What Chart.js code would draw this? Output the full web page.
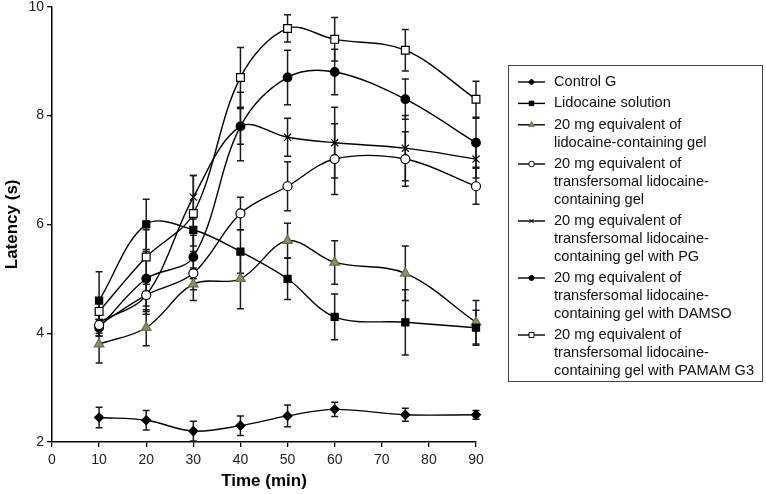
<!DOCTYPE html>
<html>
<head>
<meta charset="utf-8">
<script src="https://cdn.jsdelivr.net/npm/chart.js@4.4.0/dist/chart.umd.min.js"></script>
<style>
  html, body { margin: 0; padding: 0; background: #fff; }
</style>
</head>
<body>
<canvas id="latencyChart" width="766" height="494"></canvas>
<script>
// -------------------- Data --------------------
const times = [10, 20, 30, 40, 50, 60, 75, 90];
const yTicks = [2, 4, 6, 8, 10];

const controlG = [2.45, 2.4, 2.2, 2.3, 2.48, 2.6, 2.5, 2.5];
const controlGErr = [0.19, 0.18, 0.18, 0.18, 0.2, 0.13, 0.12, 0.08];

const lidoSolution = [4.6, 6.0, 5.9, 5.5, 5.0, 4.3, 4.2, 4.1];
const lidoSolutionErr = [0.53, 0.46, 0.3, 0.4, 0.38, 0.42, 0.6, 0.32];

const lidoGel = [3.8, 4.1, 4.9, 5.0, 5.7, 5.3, 5.1, 4.2];
const lidoGelErr = [0.35, 0.33, 0.3, 0.55, 0.32, 0.4, 0.5, 0.4];

const transGel = [4.15, 4.7, 5.1, 6.2, 6.7, 7.2, 7.2, 6.7];
const transGelErr = [0.2, 0.3, 0.3, 0.3, 0.45, 0.65, 0.5, 0.33];

const transGelPG = [4.2, 4.7, 6.5, 7.8, 7.6, 7.5, 7.4, 7.2];
const transGelPGErr = [0.2, 0.35, 0.4, 0.33, 0.35, 0.65, 0.6, 0.35];

const transGelDMSO = [4.1, 5.0, 5.4, 7.8, 8.7, 8.8, 8.3, 7.5];
const transGelDMSOErr = [0.15, 0.5, 0.4, 0.63, 0.5, 0.42, 0.37, 0.45];

const transGelPAMAM = [4.4, 5.4, 6.2, 8.7, 9.6, 9.4, 9.2, 8.3];
const transGelPAMAMErr = [0.2, 0.5, 0.7, 0.55, 0.25, 0.4, 0.38, 0.33];

const seriesLabels = [
  ["Control G"],
  ["Lidocaine solution"],
  ["20 mg equivalent of", "lidocaine-containing gel"],
  ["20 mg equivalent of", "transfersomal lidocaine-", "containing gel"],
  ["20 mg equivalent of", "transfersomal lidocaine-", "containing gel with PG"],
  ["20 mg equivalent of", "transfersomal lidocaine-", "containing gel with DAMSO"],
  ["20 mg equivalent of", "transfersomal lidocaine-", "containing gel with PAMAM G3"]
];

// -------------------- Styles --------------------
const FONT = "'Liberation Sans', Arial, sans-serif";
const markers = [
  { style: "rectRot", r: 4.5, fill: "#000", border: "#000", lr: 3 },
  { style: "rect", r: 5, fill: "#000", border: "#000", lr: 3.2 },
  { style: "triangle", r: 5.5, fill: "#8c8c72", border: "#6e6e45", lr: 3.2 },
  { style: "circle", r: 4.5, fill: "#fff", border: "#000", lr: 2.8 },
  { style: "crossRot", r: 5, fill: "#000", border: "#000", lr: 3 },
  { style: "circle", r: 4.3, fill: "#000", border: "#000", lr: 2.5 },
  { style: "rect", r: 5.5, fill: "#fff", border: "#000", lr: 3.5 }
];

const allValues = [controlG, lidoSolution, lidoGel, transGel, transGelPG, transGelDMSO, transGelPAMAM];
const allErrors = [controlGErr, lidoSolutionErr, lidoGelErr, transGelErr, transGelPGErr, transGelDMSOErr, transGelPAMAMErr];

const datasets = allValues.map((vals, k) => ({
  label: seriesLabels[k].join(" "),
  data: vals.map((v, i) => ({ x: times[i], y: v })),
  errors: allErrors[k],
  borderColor: "#000",
  borderWidth: 1.4,
  tension: 0.35,
  clip: false,
  pointStyle: markers[k].style,
  pointRadius: markers[k].r,
  pointBackgroundColor: markers[k].fill,
  pointBorderColor: markers[k].border,
  pointBorderWidth: 1.2
}));

// -------------------- Plugins --------------------
const errorBars = {
  id: "errorBars",
  beforeDatasetsDraw(chart) {
    const ctx = chart.ctx;
    const xs = chart.scales.x, ys = chart.scales.y;
    ctx.save();
    ctx.strokeStyle = "#1a1a1a";
    ctx.lineWidth = 1.5;
    chart.data.datasets.forEach(ds => {
      ds.data.forEach((p, i) => {
        const e = ds.errors[i];
        const px = xs.getPixelForValue(p.x);
        const top = ys.getPixelForValue(p.y + e);
        const bot = ys.getPixelForValue(p.y - e);
        ctx.beginPath();
        ctx.moveTo(px, top); ctx.lineTo(px, bot);
        ctx.moveTo(px - 3.5, top); ctx.lineTo(px + 3.5, top);
        ctx.moveTo(px - 3.5, bot); ctx.lineTo(px + 3.5, bot);
        ctx.stroke();
      });
    });
    ctx.restore();
  }
};

const boxLegend = {
  id: "boxLegend",
  afterDraw(chart) {
    const ctx = chart.ctx;
    const left = 508, top = 65, w = 254, h = 316;
    const lineH = 17.8, gap = 3.6;
    ctx.save();
    ctx.strokeStyle = "#444";
    ctx.lineWidth = 1;
    ctx.strokeRect(left + 0.5, top + 0.5, w, h);
    ctx.font = "14.6px " + FONT;
    ctx.fillStyle = "#111";
    ctx.textBaseline = "middle";
    let y = 82;
    seriesLabels.forEach((lines, k) => {
      ctx.strokeStyle = "#000";
      ctx.lineWidth = 1.4;
      ctx.beginPath();
      ctx.moveTo(518, y); ctx.lineTo(545, y);
      ctx.stroke();
      const m = markers[k];
      ctx.fillStyle = m.fill;
      ctx.strokeStyle = m.border;
      ctx.lineWidth = 1;
      Chart.helpers.drawPoint(ctx, { pointStyle: m.style, radius: m.lr, rotation: 0, borderWidth: 1 }, 531.5, y);
      ctx.fillStyle = "#111";
      lines.forEach((t, j) => ctx.fillText(t, 554, y + j * lineH));
      y += lines.length * lineH + gap;
    });
    ctx.restore();
  }
};

// -------------------- Chart --------------------
new Chart(document.getElementById("latencyChart"), {
  type: "line",
  data: { datasets },
  options: {
    responsive: false,
    animation: false,
    devicePixelRatio: 1,
    layout: { padding: { top: 5, right: 290, left: 0, bottom: 0 } },
    plugins: { legend: { display: false }, tooltip: { enabled: false } },
    scales: {
      x: {
        type: "linear",
        min: 0,
        max: 90,
        ticks: { stepSize: 10, color: "#222", font: { size: 14, family: FONT }, padding: 5, maxRotation: 0 },
        grid: { display: true, drawOnChartArea: false, drawTicks: true, tickLength: 5, color: "#000", lineWidth: 1.3 },
        border: { display: true, color: "#000", width: 1.5 },
        title: { display: true, text: "Time (min)", color: "#000", font: { size: 17, weight: "bold", family: FONT }, padding: { top: 0, bottom: 2 } },
        afterFit(scale) { scale.height = 52; scale.paddingLeft = 0; scale.paddingRight = 0; }
      },
      y: {
        min: 2,
        max: 10,
        afterBuildTicks(scale) { scale.ticks = yTicks.map(v => ({ value: v })); },
        ticks: { color: "#222", font: { size: 14, family: FONT }, padding: 3 },
        grid: { display: true, drawOnChartArea: false, drawTicks: true, tickLength: 5, color: "#000", lineWidth: 1.3 },
        border: { display: true, color: "#000", width: 1.5 },
        title: { display: true, text: "Latency (s)", color: "#000", font: { size: 17, weight: "bold", family: FONT }, padding: { top: 2, bottom: 0 } },
        afterFit(scale) { scale.width = 52; scale.paddingTop = 0; scale.paddingBottom = 0; }
      }
    }
  },
  plugins: [errorBars, boxLegend]
});
</script>
</body>
</html>
